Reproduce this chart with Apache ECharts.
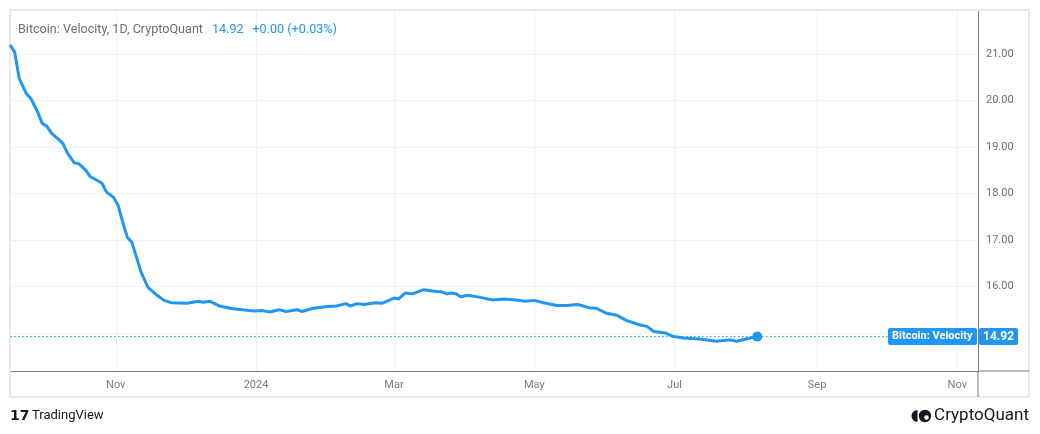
<!DOCTYPE html>
<html>
<head>
<meta charset="utf-8">
<script src="https://cdn.jsdelivr.net/npm/echarts@6/dist/echarts.min.js"></script>
<style>
  html, body { margin: 0; padding: 0; background: #ffffff; }
  #chart { width: 1040px; height: 434px; }
</style>
</head>
<body>
<div id="chart"></div>
<script>
// ---- Data ----
const axisStart = '2023-09-16';
const axisEnd = '2024-11-10';

const sampleDates = [
  '2023-09-16','2023-09-18','2023-09-20','2023-09-23','2023-09-25','2023-09-28','2023-09-30',
  '2023-10-02','2023-10-04','2023-10-07','2023-10-09','2023-10-11','2023-10-14','2023-10-16',
  '2023-10-19','2023-10-21','2023-10-24','2023-10-26','2023-10-28','2023-10-31',
  '2023-11-02','2023-11-04','2023-11-06','2023-11-08','2023-11-10','2023-11-12','2023-11-15',
  '2023-11-19','2023-11-22','2023-11-25','2023-12-02','2023-12-07','2023-12-09','2023-12-12',
  '2023-12-16','2023-12-22','2023-12-26','2023-12-31','2024-01-04','2024-01-07','2024-01-11',
  '2024-01-14','2024-01-19','2024-01-21','2024-01-26','2024-02-01','2024-02-05','2024-02-09',
  '2024-02-11','2024-02-14','2024-02-17','2024-02-22','2024-02-25','2024-03-01','2024-03-03',
  '2024-03-06','2024-03-09','2024-03-14','2024-03-18','2024-03-22','2024-03-24','2024-03-26',
  '2024-03-28','2024-03-30','2024-04-02','2024-04-07','2024-04-13','2024-04-18','2024-04-23',
  '2024-04-27','2024-05-01','2024-05-05','2024-05-11','2024-05-15','2024-05-20','2024-05-25',
  '2024-05-28','2024-06-01','2024-06-06','2024-06-10','2024-06-16','2024-06-19','2024-06-22',
  '2024-06-27','2024-06-30','2024-07-05','2024-07-12','2024-07-19','2024-07-25','2024-07-28',
  '2024-08-01','2024-08-06'
];
const velocity = [
  21.20, 21.05, 20.48, 20.16, 20.05, 19.76, 19.51,
  19.45, 19.30, 19.17, 19.08, 18.87, 18.66, 18.64,
  18.50, 18.36, 18.28, 18.22, 18.03, 17.92,
  17.75, 17.39, 17.06, 16.95, 16.63, 16.31, 15.98,
  15.81, 15.70, 15.65, 15.64, 15.68, 15.66, 15.68,
  15.58, 15.52, 15.50, 15.47, 15.48, 15.45, 15.50,
  15.46, 15.50, 15.46, 15.53, 15.57, 15.58, 15.63,
  15.58, 15.63, 15.61, 15.65, 15.64, 15.75, 15.73,
  15.86, 15.84, 15.93, 15.90, 15.88, 15.84, 15.86,
  15.84, 15.78, 15.81, 15.77, 15.71, 15.73, 15.71,
  15.68, 15.70, 15.65, 15.59, 15.59, 15.61, 15.54,
  15.53, 15.43, 15.38, 15.27, 15.17, 15.14, 15.03,
  15.00, 14.93, 14.89, 14.87, 14.82, 14.85, 14.82,
  14.87, 14.92
];
const xTickDates = ['2023-11-01','2024-01-01','2024-03-01','2024-05-01','2024-07-01','2024-09-01','2024-11-01'];
const xTickLabels = ['Nov','2024','Mar','May','Jul','Sep','Nov'];
const yMin = 14.18, yMax = 21.95;
const seriesName = 'Bitcoin: Velocity';
const headerText = 'Bitcoin: Velocity, 1D, CryptoQuant';
const lastValueText = '14.92';
const changeText = '+0.00 (+0.03%)';

// ---- build daily category axis ----
function fmt(d) { return d.toISOString().slice(0, 10); }
const categories = [];
for (let d = new Date(axisStart + 'T00:00:00Z'); fmt(d) <= axisEnd; d.setUTCDate(d.getUTCDate() + 1)) {
  categories.push(fmt(d));
}
const seriesData = sampleDates.map((d, i) => [d, velocity[i]]);
const lastIdx = velocity.length - 1;

const BLUE = '#2196f3';
const FONT = 'Roboto, "Liberation Sans", sans-serif';
const tickSet = new Set(xTickDates);

const chart = echarts.init(document.getElementById('chart'), null, { renderer: 'canvas' });
const option = {
  animation: false,
  backgroundColor: '#ffffff',
  textStyle: { fontFamily: FONT },
  title: {
    left: 13, top: 16,
    text: '{a|' + headerText + '}  {b|' + lastValueText + '}  {b|' + changeText + '}',
    textStyle: {
      fontWeight: 'normal',
      rich: {
        a: { color: '#6a6d78', fontSize: 12.6, fontWeight: 'normal', fontFamily: FONT },
        b: { color: BLUE, fontSize: 12.6, fontWeight: 'normal', fontFamily: FONT }
      }
    }
  },
  grid: { left: 10, right: 62, top: 10, bottom: 63, containLabel: false },
  xAxis: {
    type: 'category',
    data: categories,
    boundaryGap: false,
    axisLine: { show: true, lineStyle: { color: '#787b86', width: 1 } },
    axisTick: { show: false },
    axisLabel: {
      interval: (i, v) => tickSet.has(v),
      formatter: (v) => xTickLabels[xTickDates.indexOf(v)] || '',
      color: '#787b86', fontSize: 11, margin: 9, fontFamily: FONT
    },
    splitLine: {
      show: true,
      interval: (i, v) => tickSet.has(v),
      lineStyle: { color: '#f0f2f6', width: 1 }
    }
  },
  yAxis: {
    type: 'value',
    position: 'right',
    min: yMin, max: yMax,
    minInterval: 1, maxInterval: 1,
    axisLine: { show: true, lineStyle: { color: '#787b86', width: 1 } },
    axisTick: { show: false },
    axisLabel: {
      showMinLabel: false, showMaxLabel: false,
      formatter: (v) => v.toFixed(2),
      color: '#6a6d78', fontSize: 11, margin: 8, fontFamily: FONT
    },
    splitLine: { show: true, lineStyle: { color: '#f0f2f6', width: 1 } }
  },
  series: [{
    name: seriesName,
    type: 'line',
    data: seriesData,
    showSymbol: false,
    smooth: false,
    lineStyle: { color: BLUE, width: 3 },
    itemStyle: { color: BLUE },
    z: 5,
    markLine: {
      silent: true,
      symbol: ['none', 'none'],
      label: { show: false },
      lineStyle: { color: BLUE, type: [1.5, 2.5], width: 1 },
      data: [{ yAxis: velocity[lastIdx] }],
      z: 3
    },
    markPoint: {
      silent: true,
      symbol: 'circle',
      symbolSize: 10,
      itemStyle: { color: BLUE },
      label: { show: false },
      data: [{ coord: [sampleDates[lastIdx], velocity[lastIdx]] }]
    }
  }]
};
chart.setOption(option);

// overlays positioned through the library's scale
const yLast = chart.convertToPixel({ yAxisIndex: 0 }, velocity[lastIdx]);
const gx = chart.convertToPixel({ xAxisIndex: 0 }, categories[categories.length - 1]);
const bottomY = chart.convertToPixel({ yAxisIndex: 0 }, yMin);
chart.setOption({
  graphic: [
    // outer frame
    { type: 'rect', shape: { x: 10, y: 10, width: 1019, height: 387 }, style: { fill: 'none', stroke: '#e8eaef', lineWidth: 2 }, z: 1, silent: true },
    // axis extensions
    { type: 'line', shape: { x1: gx, y1: bottomY, x2: gx, y2: 397 }, style: { stroke: '#787b86', lineWidth: 1 }, z: 10, silent: true },
    { type: 'line', shape: { x1: gx, y1: bottomY, x2: 1029, y2: bottomY }, style: { stroke: '#787b86', lineWidth: 1 }, z: 10, silent: true },
    // series name tag
    { type: 'rect', shape: { x: gx - 90, y: yLast - 8.5, width: 89, height: 17, r: 2 }, style: { fill: BLUE }, z: 20, silent: true },
    { type: 'text', x: gx - 86, y: yLast, style: { text: seriesName, fill: '#ffffff', font: 'bold 11px ' + FONT, textVerticalAlign: 'middle', textAlign: 'left' }, z: 21, silent: true },
    // value tag on the axis
    { type: 'rect', shape: { x: gx + 1, y: yLast - 8.5, width: 39, height: 17, r: 2 }, style: { fill: BLUE }, z: 20, silent: true },
    { type: 'text', x: gx + 20.5, y: yLast, style: { text: lastValueText, fill: '#ffffff', font: 'bold 12px ' + FONT, textVerticalAlign: 'middle', textAlign: 'center' }, z: 21, silent: true },
    // footer: TradingView
    { type: 'text', x: 10, y: 416, style: { text: '17', fill: '#131722', font: 'bold 14px "DejaVu Sans", sans-serif', textVerticalAlign: 'middle' }, z: 20, silent: true },
    { type: 'text', x: 32, y: 416, style: { text: 'TradingView', fill: '#131722', font: '13px ' + FONT, textVerticalAlign: 'middle' }, z: 20, silent: true },
    // footer: CryptoQuant
    { type: 'sector', shape: { cx: 917.5, cy: 416, r: 6, r0: 0, startAngle: Math.PI / 2, endAngle: Math.PI * 1.5 }, style: { fill: '#131722' }, z: 20, silent: true },
    { type: 'circle', shape: { cx: 925, cy: 416, r: 6.2 }, style: { fill: '#131722' }, z: 20, silent: true },
    { type: 'circle', shape: { cx: 926.5, cy: 417.5, r: 2.3 }, style: { fill: '#ffffff' }, z: 21, silent: true },
    { type: 'text', x: 1029, y: 416, style: { text: 'CryptoQuant', fill: '#131722', font: '17px ' + FONT, textVerticalAlign: 'middle', textAlign: 'right' }, z: 20, silent: true }
  ]
});
</script>
</body>
</html>
